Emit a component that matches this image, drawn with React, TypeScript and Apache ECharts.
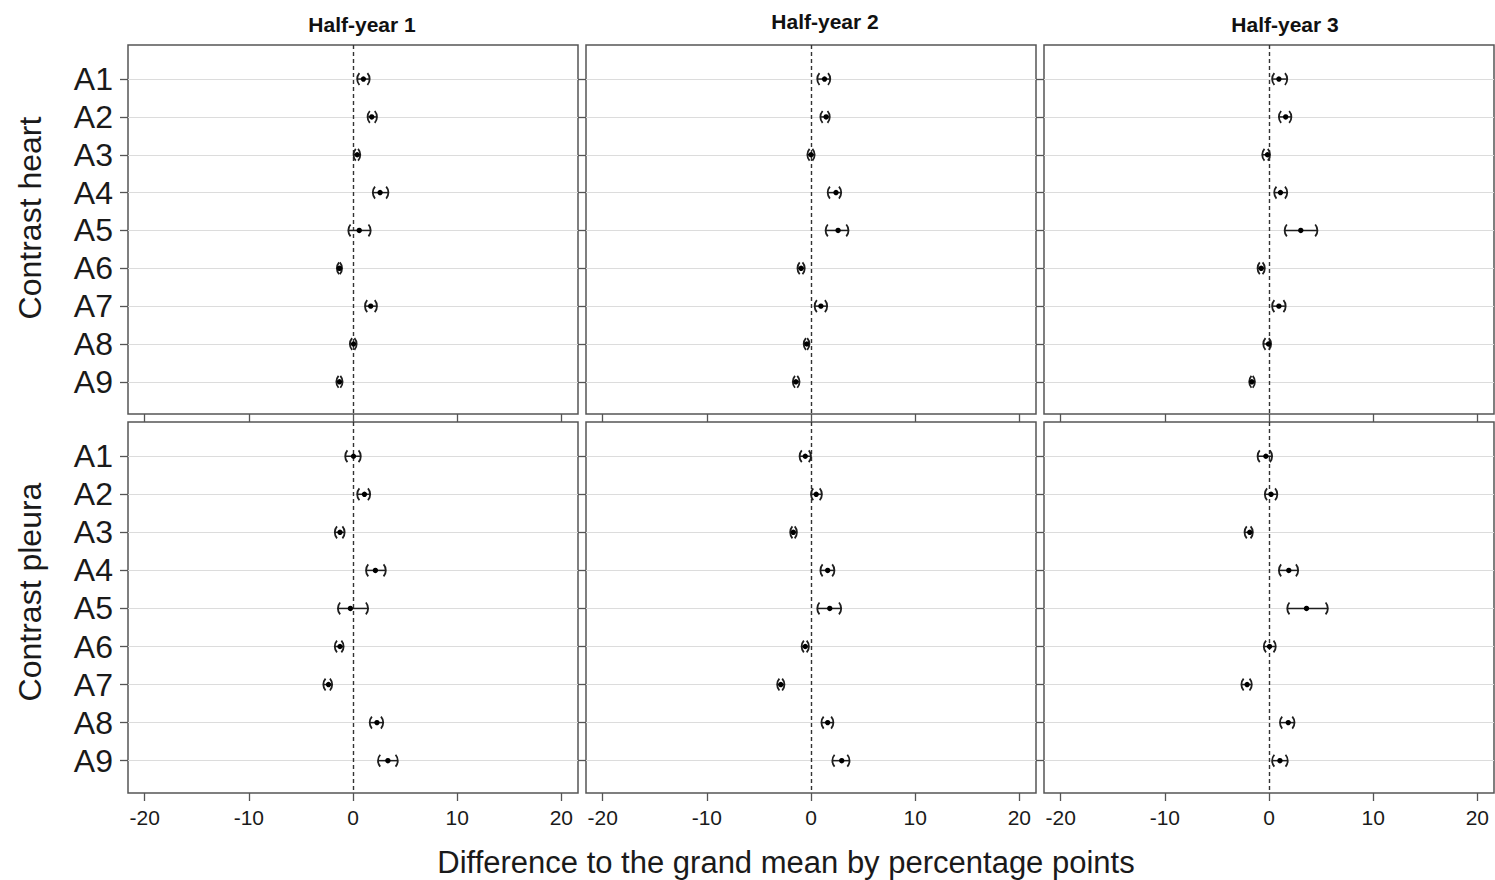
import React, { useEffect, useRef } from "react";
import * as echarts from "echarts";

const categories = ["A1", "A2", "A3", "A4", "A5", "A6", "A7", "A8", "A9"];
const halfYears = ["Half-year 1", "Half-year 2", "Half-year 3"];
const rowNames = ["Contrast heart", "Contrast pleura"];
const xTicks = [-20, -10, 0, 10, 20];
const xName = "Difference to the grand mean by percentage points";

// Contrast heart
const heartH1Est = [1.0, 1.8, 0.4, 2.6, 0.6, -1.3, 1.7, 0.05, -1.3];
const heartH1Lo = [0.4, 1.4, 0.05, 1.9, -0.45, -1.55, 1.15, -0.3, -1.6];
const heartH1Hi = [1.6, 2.3, 0.7, 3.4, 1.7, -1.05, 2.3, 0.35, -1.0];

const heartH2Est = [1.3, 1.45, 0.0, 2.4, 2.6, -0.95, 0.95, -0.4, -1.45];
const heartH2Lo = [0.6, 0.9, -0.35, 1.6, 1.4, -1.3, 0.35, -0.7, -1.75];
const heartH2Hi = [1.85, 1.8, 0.35, 2.9, 3.6, -0.6, 1.55, -0.15, -1.1];

const heartH3Est = [0.95, 1.6, -0.15, 1.1, 3.05, -0.75, 0.95, -0.05, -1.65];
const heartH3Lo = [0.3, 0.95, -0.65, 0.5, 1.5, -1.1, 0.3, -0.55, -1.9];
const heartH3Hi = [1.75, 2.15, 0.1, 1.75, 4.65, -0.4, 1.6, 0.2, -1.35];

// Contrast pleura
const pleuraH1Est = [0.05, 1.1, -1.25, 2.15, -0.25, -1.25, -2.35, 2.3, 3.35];
const pleuraH1Lo = [-0.75, 0.4, -1.75, 1.25, -1.45, -1.75, -2.85, 1.6, 2.4];
const pleuraH1Hi = [0.75, 1.65, -0.8, 3.15, 1.45, -0.9, -2.0, 2.9, 4.3];

const pleuraH2Est = [-0.55, 0.5, -1.7, 1.6, 1.8, -0.55, -2.9, 1.6, 2.95];
const pleuraH2Lo = [-1.1, 0.0, -2.0, 0.9, 0.6, -0.9, -3.25, 1.0, 2.05];
const pleuraH2Hi = [0.0, 1.05, -1.35, 2.25, 2.9, -0.2, -2.55, 2.15, 3.7];

const pleuraH3Est = [-0.3, 0.2, -1.85, 1.9, 3.6, 0.05, -2.1, 1.85, 1.05];
const pleuraH3Lo = [-1.1, -0.4, -2.35, 0.95, 1.75, -0.5, -2.65, 1.05, 0.3];
const pleuraH3Hi = [0.3, 0.8, -1.55, 2.8, 5.65, 0.65, -1.65, 2.45, 1.8];

const panels = [
  { est: heartH1Est, lo: heartH1Lo, hi: heartH1Hi },
  { est: heartH2Est, lo: heartH2Lo, hi: heartH2Hi },
  { est: heartH3Est, lo: heartH3Lo, hi: heartH3Hi },
  { est: pleuraH1Est, lo: pleuraH1Lo, hi: pleuraH1Hi },
  { est: pleuraH2Est, lo: pleuraH2Lo, hi: pleuraH2Hi },
  { est: pleuraH3Est, lo: pleuraH3Lo, hi: pleuraH3Hi },
];

const FONT = "'Liberation Sans', Arial, Helvetica, sans-serif";
const colLeft = [128, 586, 1044];
const rowTop = [45, 422];
const rowHeight = [369, 371];
const PANEL_W = 450;

function renderItem(params: any, api: any) {
  const lo = api.value(0);
  const hi = api.value(1);
  const est = api.value(2);
  const y = api.value(3);
  const pLo = api.coord([lo, y]);
  const pHi = api.coord([hi, y]);
  const pE = api.coord([est, y]);
  const r = 9;
  const a = 0.72;
  const stroke = "#1e1e1e";
  return {
    type: "group",
    children: [
      {
        type: "line",
        shape: { x1: pLo[0], y1: pLo[1], x2: pHi[0], y2: pHi[1] },
        style: { stroke, lineWidth: 1.5 },
      },
      {
        type: "arc",
        shape: { cx: pLo[0] + r, cy: pLo[1], r, startAngle: Math.PI - a, endAngle: Math.PI + a, clockwise: true },
        style: { stroke, fill: null, lineWidth: 1.8 },
      },
      {
        type: "arc",
        shape: { cx: pHi[0] - r, cy: pHi[1], r, startAngle: -a, endAngle: a, clockwise: true },
        style: { stroke, fill: null, lineWidth: 1.8 },
      },
      {
        type: "circle",
        shape: { cx: pE[0], cy: pE[1], r: 2.7 },
        style: { fill: "#000" },
      },
    ],
  };
}

export default function App() {
  const ref = useRef<HTMLDivElement>(null);
  useEffect(() => {
    if (!ref.current) return;
    const chart = echarts.init(ref.current, null, { renderer: "svg" });
    const grids: any[] = [];
    const xAxes: any[] = [];
    const yAxes: any[] = [];
    const series: any[] = [];
    const yVals = categories.map((_, i) => i + 1);
    for (let p = 0; p < 6; p++) {
      const row = Math.floor(p / 3);
      const col = p % 3;
      grids.push({
        left: colLeft[col],
        top: rowTop[row],
        width: PANEL_W,
        height: rowHeight[row],
        show: true,
        borderColor: "#555",
        borderWidth: 1.5,
        backgroundColor: "#fff",
      });
      xAxes.push({
        type: "value",
        gridIndex: p,
        min: -21.6,
        max: 21.6,
        position: "bottom",
        axisLine: { show: false, onZero: false },
        axisTick: { show: true, length: 8, customValues: xTicks, lineStyle: { color: "#555", width: 1.3 } },
        axisLabel: {
          show: row === 1,
          customValues: xTicks,
          fontSize: 21,
          color: "#1a1a1a",
          fontFamily: FONT,
          margin: 14,
        },
        splitLine: { show: false },
      });
      yAxes.push({
        type: "value",
        gridIndex: p,
        inverse: true,
        min: 0.1,
        max: 9.85,
        position: "left",
        axisLine: { show: false, onZero: false },
        axisTick: { show: true, length: 8, customValues: yVals, lineStyle: { color: "#555", width: 1.3 } },
        axisLabel: {
          show: col === 0,
          customValues: yVals,
          formatter: (v: number) => categories[Math.round(v) - 1] ?? "",
          fontSize: 32,
          color: "#1a1a1a",
          fontFamily: FONT,
          margin: 15,
        },
        splitLine: { show: true, lineStyle: { color: "#dcdcdc", width: 1 } },
      });
      const d = panels[p];
      series.push({
        type: "custom",
        xAxisIndex: p,
        yAxisIndex: p,
        renderItem,
        encode: { x: [0, 1, 2], y: 3 },
        data: d.lo.map((l, i) => [l, d.hi[i], d.est[i], i + 1]),
        z: 5,
        markLine: {
          silent: true,
          symbol: "none",
          label: { show: false },
          lineStyle: { type: [4, 3], color: "#333", width: 1.4 },
          data: [{ xAxis: 0 }],
          z: 3,
        },
      });
    }
    const graphic: any[] = [];
    const titleX = [362, 825, 1285];
    const titleY = [24, 21, 24];
    halfYears.forEach((t, i) => {
      graphic.push({
        type: "text",
        x: titleX[i],
        y: titleY[i],
        style: {
          text: t,
          fontSize: 21,
          fontWeight: "bold",
          fontFamily: FONT,
          fill: "#111",
          textAlign: "center",
          textVerticalAlign: "middle",
        },
      });
    });
    const rowY = [218, 592];
    rowNames.forEach((t, i) => {
      graphic.push({
        type: "text",
        x: 30,
        y: rowY[i],
        rotation: Math.PI / 2,
        style: {
          text: t,
          fontSize: 32,
          fontFamily: FONT,
          fill: "#1a1a1a",
          textAlign: "center",
          textVerticalAlign: "middle",
        },
      });
    });
    graphic.push({
      type: "text",
      x: 786,
      y: 862,
      style: {
        text: xName,
        fontSize: 31,
        fontFamily: FONT,
        fill: "#1a1a1a",
        textAlign: "center",
        textVerticalAlign: "middle",
      },
    });
    chart.setOption({
      animation: false,
      backgroundColor: "#fff",
      grid: grids,
      xAxis: xAxes,
      yAxis: yAxes,
      series,
      graphic,
    });
    return () => chart.dispose();
  }, []);
  return (
    <div
      ref={ref}
      style={{ position: "absolute", left: 0, top: 0, width: 1495, height: 880 }}
    />
  );
}
